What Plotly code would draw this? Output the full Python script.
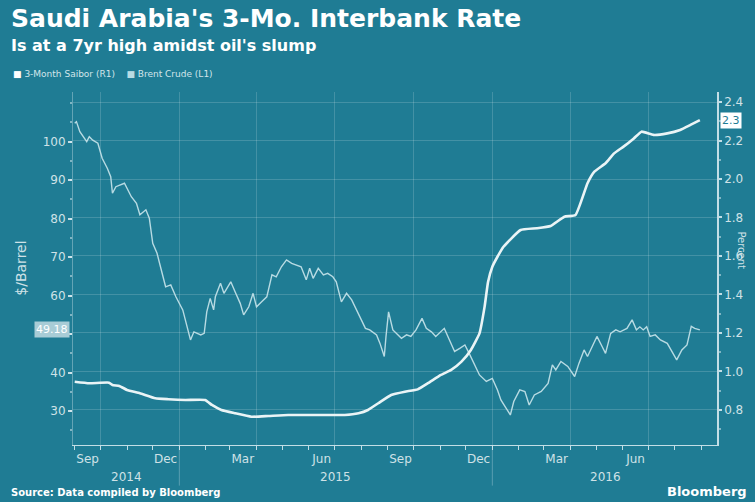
import plotly.graph_objects as go

# ---------------- data ----------------
brent_dates = [
    "2014-09-01", "2014-09-03", "2014-09-07", "2014-09-15", "2014-09-18", "2014-09-22", "2014-09-28",
    "2014-10-03", "2014-10-09", "2014-10-13", "2014-10-15", "2014-10-19", "2014-10-29", "2014-11-06",
    "2014-11-12", "2014-11-16", "2014-11-23", "2014-11-27", "2014-12-01", "2014-12-06", "2014-12-10",
    "2014-12-16", "2014-12-22", "2014-12-28", "2015-01-05", "2015-01-10", "2015-01-14", "2015-01-18",
    "2015-01-26", "2015-01-30", "2015-02-02", "2015-02-06", "2015-02-10", "2015-02-12", "2015-02-18",
    "2015-02-22", "2015-03-02", "2015-03-07", "2015-03-13", "2015-03-17", "2015-03-23", "2015-03-28",
    "2015-04-01", "2015-04-07", "2015-04-13", "2015-04-19", "2015-04-24", "2015-04-30", "2015-05-06",
    "2015-05-12", "2015-05-18", "2015-05-23", "2015-05-29", "2015-06-02", "2015-06-06", "2015-06-12",
    "2015-06-18", "2015-06-23", "2015-06-29", "2015-07-03", "2015-07-09", "2015-07-15", "2015-07-21",
    "2015-07-29", "2015-08-06", "2015-08-11", "2015-08-19", "2015-08-23", "2015-08-28", "2015-08-30",
    "2015-09-02", "2015-09-07", "2015-09-13", "2015-09-17", "2015-09-23", "2015-09-28", "2015-10-04",
    "2015-10-11", "2015-10-16", "2015-10-22", "2015-10-27", "2015-11-06", "2015-11-12", "2015-11-18",
    "2015-11-24", "2015-11-30", "2015-12-05", "2015-12-11", "2015-12-17", "2015-12-25", "2016-01-01",
    "2016-01-07", "2016-01-11", "2016-01-17", "2016-01-22", "2016-01-26", "2016-02-02", "2016-02-08",
    "2016-02-13", "2016-02-19", "2016-02-27", "2016-03-06", "2016-03-11", "2016-03-15", "2016-03-21",
    "2016-03-29", "2016-04-06", "2016-04-11", "2016-04-17", "2016-04-21", "2016-04-27", "2016-05-02",
    "2016-05-08", "2016-05-12", "2016-05-18", "2016-05-24", "2016-05-29", "2016-06-06", "2016-06-12",
    "2016-06-17", "2016-06-21", "2016-06-25", "2016-06-29", "2016-07-03", "2016-07-09", "2016-07-15",
    "2016-07-23", "2016-07-28", "2016-08-03", "2016-08-09", "2016-08-15", "2016-08-20", "2016-08-24",
    "2016-08-30",
]
brent_values = [
    104.8, 105.2, 102.6, 100.0, 101.3, 100.4, 99.6,
    95.7, 93.1, 90.9, 86.6, 88.3, 89.2, 85.7,
    84.0, 81.0, 82.3, 80.1, 73.6, 71.0, 67.5,
    62.3, 62.8, 59.7, 56.3, 52.0, 48.5, 50.6,
    49.8, 50.2, 55.8, 59.3, 56.3, 59.7, 63.2,
    60.6, 63.6, 61.0, 58.0, 55.0, 57.1, 60.6,
    57.1, 58.4, 59.7, 65.4, 64.9, 67.5, 69.3,
    68.4, 68.0, 67.5, 64.1, 67.1, 64.5, 67.1,
    65.4, 65.8, 64.9, 63.6, 58.4, 60.6, 58.9,
    55.4, 51.5, 51.1, 49.8, 47.6, 44.2, 49.4,
    55.8, 51.1, 49.8, 48.9, 49.8, 49.4, 51.1,
    54.1, 51.5, 50.6, 49.4, 51.5, 48.5, 45.5,
    46.3, 47.2, 45.0, 42.4, 39.4, 37.7, 38.5,
    35.5, 32.9, 30.8, 29.0, 32.5, 35.5, 35.1,
    31.6, 34.2, 35.1, 37.2, 42.0, 40.7, 42.9,
    41.6, 39.0, 42.4, 45.9, 44.2, 47.2, 49.4,
    46.8, 45.0, 50.2, 51.1, 50.6, 51.5, 53.7,
    51.1, 51.9, 51.1, 51.9, 49.4, 49.8, 48.5,
    47.6, 45.5, 43.3, 45.9, 47.2, 52.0, 51.5,
    51.1,
]

saibor_dates = [
    "2014-09-01", "2014-09-18", "2014-10-11", "2014-10-15", "2014-10-23", "2014-11-01", "2014-11-16",
    "2014-12-04", "2014-12-19", "2015-01-08", "2015-01-31", "2015-02-08", "2015-02-19", "2015-03-07",
    "2015-03-26", "2015-04-15", "2015-05-08", "2015-06-04", "2015-07-13", "2015-07-29", "2015-08-09",
    "2015-08-21", "2015-09-05", "2015-09-21", "2015-10-06", "2015-10-18", "2015-11-02", "2015-11-14",
    "2015-11-26", "2015-12-07", "2015-12-17", "2015-12-23", "2015-12-27", "2016-01-01", "2016-01-07",
    "2016-01-14", "2016-02-03", "2016-02-22", "2016-03-09", "2016-03-25", "2016-04-07", "2016-04-21",
    "2016-04-29", "2016-05-12", "2016-05-22", "2016-06-02", "2016-06-14", "2016-06-23", "2016-07-07",
    "2016-07-23", "2016-08-07", "2016-08-19", "2016-08-30",
]
saibor_values = [
    0.947, 0.939, 0.942, 0.930, 0.925, 0.904, 0.887,
    0.861, 0.856, 0.852, 0.852, 0.826, 0.800, 0.783,
    0.765, 0.769, 0.774, 0.774, 0.774, 0.783, 0.800,
    0.835, 0.878, 0.895, 0.907, 0.939, 0.982, 1.008,
    1.051, 1.112, 1.198, 1.337, 1.465, 1.544, 1.596,
    1.648, 1.735, 1.744, 1.756, 1.804, 1.813, 1.978,
    2.038, 2.082, 2.133, 2.168, 2.211, 2.246, 2.229,
    2.237, 2.255, 2.281, 2.306,
]

month_tick_dates = ["2014-09-16", "2014-12-16", "2015-03-16", "2015-06-16",
                    "2015-09-16", "2015-12-16", "2016-03-16", "2016-06-16"]
month_tick_labels = ["Sep", "Dec", "Mar", "Jun", "Sep", "Dec", "Mar", "Jun"]
grid_dates = ["2014-10-01", "2015-01-01", "2015-04-01", "2015-07-01", "2015-10-01",
              "2016-01-01", "2016-04-01", "2016-07-01"]
year_labels = ["2014", "2015", "2016"]
year_label_dates = ["2014-10-31", "2015-07-02", "2016-05-12"]
year_break_dates = ["2015-01-01", "2016-01-01"]
brent_ticks = [30, 40, 50, 60, 70, 80, 90, 100]
brent_tick_labels = ["30", "40", "", "60", "70", "80", "90", "100"]
last_brent_label = "49.18"
last_saibor_label = "2.3"

# ---------------- style ----------------
BG = "#1f7c94"
GRID = "rgba(255,255,255,0.16)"
TICK = "#cfe2e7"
AXLINE = "rgba(225,240,244,0.85)"
FONT = "DejaVu Sans"
X_RANGE = ["2014-08-30", "2016-09-19"]

fig = go.Figure()
fig.add_trace(go.Scatter(x=brent_dates, y=brent_values, mode="lines", name="Brent Crude (L1)",
                         line=dict(color="#b8dbe3", width=1.4), yaxis="y", xaxis="x"))
fig.add_trace(go.Scatter(x=saibor_dates, y=saibor_values, mode="lines", name="3-Month Saibor (R1)",
                         line=dict(color="#eaf4f6", width=2.6, shape="spline", smoothing=0.4),
                         yaxis="y2", xaxis="x"))

fig.update_layout(
    width=755, height=502,
    margin=dict(l=73, r=34, t=92, b=57),
    paper_bgcolor=BG, plot_bgcolor=BG,
    showlegend=False,
    font=dict(family=FONT, color=TICK, size=12),
    xaxis=dict(
        type="date", range=X_RANGE,
        tickmode="array", tickvals=grid_dates, ticktext=[""] * len(grid_dates),
        showgrid=True, gridcolor=GRID, gridwidth=1,
        ticks="", showline=True, linecolor=AXLINE, linewidth=1,
        zeroline=False,
        minor=dict(tickmode="linear", tick0="2014-09-01", dtick="M1", ticks="outside",
                   ticklen=4, tickcolor=AXLINE, showgrid=False),
    ),
    xaxis2=dict(
        type="date", range=X_RANGE, overlaying="x", side="bottom", anchor="y",
        tickmode="array", tickvals=month_tick_dates, ticktext=month_tick_labels,
        showgrid=False, ticks="outside", ticklen=3, tickcolor="rgba(0,0,0,0)",
        showline=False, zeroline=False,
        tickfont=dict(family=FONT, size=12, color=TICK),
    ),
    yaxis=dict(
        range=[21.2, 112.9], tickmode="array", tickvals=brent_ticks, ticktext=brent_tick_labels,
        showgrid=False, zeroline=False, showline=True, linecolor="rgba(225,240,244,0.35)",
        ticks="outside", ticklen=4, tickcolor=AXLINE, tickwidth=1.5,
        tickfont=dict(family=FONT, size=12, color=TICK),
        minor=dict(tickmode="linear", tick0=0, dtick=5, ticks="outside", ticklen=2,
                   tickcolor="rgba(225,240,244,0.5)", showgrid=False),
    ),
    yaxis2=dict(
        range=[0.618, 2.452], overlaying="y", side="right", anchor="x",
        tick0=0.8, dtick=0.2, tickformat=".1f",
        showgrid=True, gridcolor=GRID, gridwidth=1, zeroline=False,
        showline=True, linecolor=AXLINE, linewidth=1.5,
        ticks="outside", ticklen=3, tickcolor=AXLINE, tickwidth=2,
        tickfont=dict(family=FONT, size=12, color=TICK),
        minor=dict(tickmode="linear", tick0=0, dtick=0.1, ticks="outside", ticklen=2,
                   tickcolor="rgba(225,240,244,0.5)", showgrid=False),
    ),
)

# invisible trace so that the month-label axis is drawn
fig.add_trace(go.Scatter(x=[X_RANGE[0]], y=[None], xaxis="x2", yaxis="y", mode="markers",
                         marker=dict(opacity=0), hoverinfo="skip", showlegend=False))

ann = []
ann.append(dict(text="<b>Saudi Arabia's 3-Mo. Interbank Rate</b>", xref="paper", yref="paper",
                x=-0.1, y=1.209, xanchor="left", yanchor="middle", showarrow=False,
                font=dict(family=FONT, size=25, color="white")))
ann.append(dict(text="<b>Is at a 7yr high amidst oil's slump</b>", xref="paper", yref="paper",
                x=-0.099, y=1.133, xanchor="left", yanchor="middle", showarrow=False,
                font=dict(family=FONT, size=16, color="white")))
ann.append(dict(text="<span style='color:#ffffff'>■</span> 3-Month Saibor (R1)    "
                     "<span style='color:#b8dbe3'>■</span> Brent Crude (L1)",
                xref="paper", yref="paper", x=-0.097, y=1.05, xanchor="left", yanchor="middle",
                showarrow=False, font=dict(family=FONT, size=9, color="#d2e5ea")))
ann.append(dict(text="<b>Source: Data compiled by Bloomberg</b>", xref="paper", yref="paper",
                x=-0.099, y=-0.135, xanchor="left", yanchor="middle", showarrow=False,
                font=dict(family=FONT, size=10, color="white")))
ann.append(dict(text="<b>Bloomberg</b>", xref="paper", yref="paper",
                x=1.05, y=-0.133, xanchor="right", yanchor="middle", showarrow=False,
                font=dict(family=FONT, size=13, color="white")))
ann.append(dict(text="$/Barrel", xref="paper", yref="paper", x=-0.082, y=0.5,
                xanchor="center", yanchor="middle", textangle=-90, showarrow=False,
                font=dict(family=FONT, size=14, color=TICK)))
ann.append(dict(text="Percent", xref="paper", yref="paper", x=1.038, y=0.55,
                xanchor="center", yanchor="middle", textangle=90, showarrow=False,
                font=dict(family=FONT, size=10, color=TICK)))
for lbl, d in zip(year_labels, year_label_dates):
    ann.append(dict(text=lbl, xref="x", yref="paper", x=d, y=-0.09, xanchor="center",
                    yanchor="middle", showarrow=False, font=dict(family=FONT, size=12, color=TICK)))
ann.append(dict(text=last_brent_label, xref="paper", yref="y", x=0, y=brent_values[-1],
                xanchor="right", yanchor="middle", xshift=-3, showarrow=False,
                bgcolor="#a8ccd6", borderpad=1,
                font=dict(family=FONT, size=11, color="white")))
ann.append(dict(text=last_saibor_label, xref="paper", yref="y2", x=1, y=saibor_values[-1],
                xanchor="left", yanchor="middle", xshift=3, showarrow=False,
                bgcolor="white", borderpad=1,
                font=dict(family=FONT, size=11, color=BG)))
fig.update_layout(annotations=ann)

shapes = []
for d in year_break_dates:
    shapes.append(dict(type="line", xref="x", yref="paper", x0=d, x1=d, y0=0, y1=-0.115,
                       line=dict(color="rgba(225,240,244,0.3)", width=1)))
fig.update_layout(shapes=shapes)

fig.write_html("out.html")
